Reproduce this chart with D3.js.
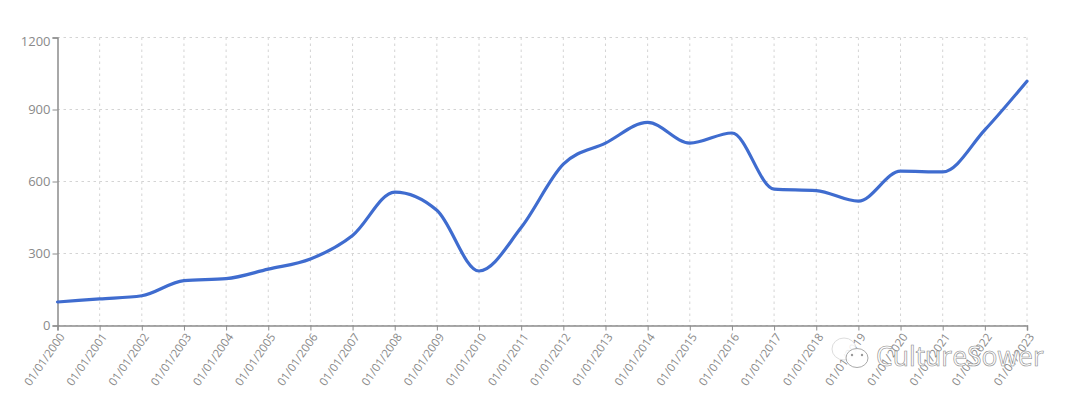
<!DOCTYPE html>
<html><head><meta charset="utf-8">
<script src="https://cdn.jsdelivr.net/npm/d3@7/dist/d3.min.js"></script>
<style>html,body{margin:0;background:#fff}svg{display:block}text{font-family:"Open Sans",sans-serif}</style>
</head><body><svg id="c" width="1080" height="401"></svg>
<script>
const years=[2000,2001,2002,2003,2004,2005,2006,2007,2008,2009,2010,2011,2012,2013,2014,2015,2016,2017,2018,2019,2020,2021,2022,2023];
const values=[98,111,124,187,195,235,277,375,556,480,227,408,672,760,846,760,802,568,562,518,643,640,815,1018];
const yTicks=[0,300,600,900,1200];
const tickLabels=years.map(y=>"01/01/"+y);
const svg=d3.select("#c");
const x=d3.scaleLinear().domain([2000,2023]).range([57.5,1027]);
const y=d3.scaleLinear().domain([0,1200]).range([325.5,37.5]);
const axisC="#8c8c8c",gridC="#d4d4d4",textC="#8a8a8a";
const g=svg.append("g");
g.selectAll(".gy").data(yTicks).join("line").attr("x1",57.5).attr("x2",1027).attr("y1",d=>y(d)).attr("y2",d=>y(d)).attr("stroke",gridC).attr("stroke-dasharray","2.5 3.5");
g.selectAll(".gx").data(years.slice(1)).join("line").attr("x1",d=>x(d)).attr("x2",d=>x(d)).attr("y1",37.5).attr("y2",325.5).attr("stroke",gridC).attr("stroke-dasharray","2.5 3.5");
const ay=svg.append("g").attr("transform","translate(57.5,0)").call(d3.axisLeft(y).tickValues(yTicks).tickFormat(d3.format("d")).tickSize(5).tickPadding(2));
ay.select(".domain").attr("stroke",axisC).attr("stroke-width",1.5);
ay.selectAll(".tick line").attr("stroke",axisC);
ay.selectAll("text").attr("fill",textC).style("font-size","13px").attr("dy",d=>d===1200?"0.62em":"0.32em");
const ax=svg.append("g").attr("transform","translate(0,325.5)").call(d3.axisBottom(x).tickValues(years).tickFormat((d,i)=>tickLabels[i]).tickSize(5));
ax.select(".domain").attr("stroke",axisC).attr("stroke-width",1.5);
ax.selectAll(".tick line").attr("stroke",axisC);
ax.selectAll("text").attr("fill",textC).style("font-size","11.5px").attr("text-anchor","end").attr("dy","0.35em").attr("x",0).attr("y",0)
  .attr("transform","translate(4,9) rotate(-55)");
const line=d3.line().x((d,i)=>x(years[i])).y(d=>y(d)).curve(d3.curveMonotoneX);
svg.append("path").datum(values).attr("d",line).attr("fill","none").attr("stroke","#3f6ccf").attr("stroke-width",3.2).attr("stroke-linecap","round");
// watermark
const wm=svg.append("g");
wm.append("text").attr("x",876).attr("y",366).attr("fill","#fff").attr("stroke","#8a8a8a").attr("stroke-width",0.6).style("font-size","26.5px").text("CultureSower");
wm.append("ellipse").attr("cx",844).attr("cy",349).attr("rx",12).attr("ry",11).attr("fill","#fff").attr("fill-opacity",0.85).attr("stroke","#ddd");
wm.append("ellipse").attr("cx",857).attr("cy",358).attr("rx",11).attr("ry",9.5).attr("fill","#fff").attr("fill-opacity",0.9).attr("stroke","#aaa");
wm.selectAll(".eye").data([[852,355],[862,355]]).join("circle").attr("cx",d=>d[0]).attr("cy",d=>d[1]).attr("r",1.2).attr("fill","#999");
</script></body></html>
